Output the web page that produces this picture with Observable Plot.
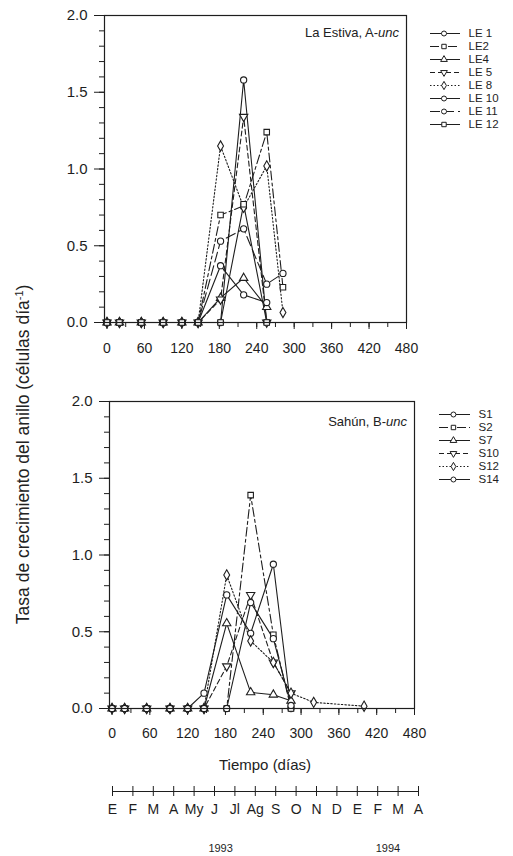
<!DOCTYPE html>
<html><head><meta charset="utf-8">
<script src="https://cdn.jsdelivr.net/npm/d3@7"></script>
<script src="https://cdn.jsdelivr.net/npm/@observablehq/plot@0.6"></script>
<style>
body{margin:0;background:#fff;}
#c{position:relative;width:513px;height:856px;font-family:"Liberation Sans",Arial,sans-serif;color:#222;overflow:hidden;}
#c svg{position:absolute;}
.abs{position:absolute;white-space:nowrap;}
</style></head><body><div id="c"></div>
<script>
// ---------- data ----------
const xTicks = [0, 60, 120, 180, 240, 300, 360, 420, 480];
const yTicks = [0, 0.5, 1.0, 1.5, 2.0];
const months = ["E","F","M","A","My","J","Jl","Ag","S","O","N","D","E","F","M","A"];
const years = [{label:"1993", m:5.3}, {label:"1994", m:13.5}];

const daysA = [0, 20, 55, 90, 120, 146, 182, 219, 256, 282];
const LE1  = [0,0,0,0,0,0,0,    1.58, 0,    null];
const LE2  = [0,0,0,0,0,0,0.70, 0.76, 1.24, 0.23];
const LE4  = [0,0,0,0,0,0,0.16, 0.29, 0.10, null];
const LE5  = [0,0,0,0,0,0,0.15, 1.34, 0,    null];
const LE8  = [0,0,0,0,0,0,1.15, 0.75, 1.02, 0.065];
const LE10 = [0,0,0,0,0,0,0.37, 0.18, 0.13, null];
const LE11 = [0,0,0,0,0,0,0.53, 0.61, 0.25, 0.32];
const LE12 = [0,0,0,0,0,0,0,    0.77, 0,    null];

const daysB = [0, 20, 55, 92, 120, 146, 182, 220, 256, 284, 320, 400];
const S1  = [0,0,0,0,0,0.10,0.74, 0.49, 0.94, 0,    null, null];
const S2  = [0,0,0,0,0,0,   0,    1.39, 0.48, 0,    null, null];
const S7  = [0,0,0,0,0,0,   0.555,0.105,0.09, 0.05, null, null];
const S10 = [0,0,0,0,0,0,   0.275,0.74, 0.30, 0.10, null, null];
const S12 = [0,0,0,0,0,0,   0.87, 0.44, 0.30, 0.10, 0.04, 0.015];
const S14 = [0,0,0,0,0,0,   0,    0.69, 0.455,0.02, null, null];

// ---------- styles ----------
const sqrt3 = Math.sqrt(3);
const triDown = {draw(ctx, size){ const y = -Math.sqrt(size/(sqrt3*3)); ctx.moveTo(0,-y*2); ctx.lineTo(-sqrt3*y, y); ctx.lineTo(sqrt3*y, y); ctx.closePath(); }};
const INK = "#1e1e1e";
const DASH = {solid:null, dashdot:"9,3,3,3", dash:"5,3", dot:"1.5,2", long:"10,4"};

const seriesA = [
  {name:"LE 1",  v:LE1,  sym:"circle",   dash:DASH.solid},
  {name:"LE2",   v:LE2,  sym:"square",   dash:DASH.dashdot},
  {name:"LE4",   v:LE4,  sym:"triangle", dash:DASH.solid},
  {name:"LE 5",  v:LE5,  sym:triDown,    dash:DASH.dash},
  {name:"LE 8",  v:LE8,  sym:"diamond",  dash:DASH.dot},
  {name:"LE 10", v:LE10, sym:"circle",   dash:DASH.solid},
  {name:"LE 11", v:LE11, sym:"circle",   dash:DASH.long},
  {name:"LE 12", v:LE12, sym:"square",   dash:DASH.solid}
];
const seriesB = [
  {name:"S1",  v:S1,  sym:"circle",   dash:DASH.solid},
  {name:"S2",  v:S2,  sym:"square",   dash:DASH.dashdot},
  {name:"S7",  v:S7,  sym:"triangle", dash:DASH.solid},
  {name:"S10", v:S10, sym:triDown,    dash:DASH.dash},
  {name:"S12", v:S12, sym:"diamond",  dash:DASH.dot},
  {name:"S14", v:S14, sym:"circle",   dash:DASH.solid}
];

const root = document.getElementById("c");
const baseStyle = {fontFamily:"Liberation Sans, Arial, sans-serif", fontSize:"14px", color:INK, background:"transparent", overflow:"visible"};

function panel(series, days, opts){
  const rowsOf = s => days.map((d,i)=>({day:d, v:s.v[i]})).filter(r=>r.v!=null);
  const lines = series.map(s => Plot.line(rowsOf(s), {x:"day", y:"v", stroke:INK, strokeWidth:1.1, strokeDasharray:s.dash}));
  const dots = series.map(s => Plot.dot(rowsOf(s), {x:"day", y:"v", symbol:s.sym, r:3.1, fill:"white", stroke:INK, strokeWidth:1.1}));
  const p = Plot.plot({
    width:513, height:opts.height,
    marginTop:opts.mt, marginBottom:opts.mb, marginLeft:opts.ml, marginRight:opts.mr,
    style:baseStyle,
    x:{domain:[-4,480]}, y:{domain:[0,2]},
    marks:[
      Plot.axisX({ticks:d3.range(0,481,30), tickSize:5, tickFormat:()=>"", label:null, stroke:INK}),
      Plot.axisX({ticks:xTicks, tickSize:7, tickPadding:opts.xpad, label:null, fontSize:14, stroke:INK, fill:INK}),
      Plot.axisY({ticks:d3.range(0,20.5,1).map(d=>d/10), tickSize:5, tickFormat:()=>"", label:null, stroke:INK}),
      Plot.axisY({ticks:yTicks, tickSize:10, tickPadding:7, tickFormat:d3.format(".1f"), label:null, fontSize:15, stroke:INK, fill:INK}),
      ...lines, ...dots,
      Plot.frame({stroke:INK, strokeWidth:1.2})
    ]
  });
  p.style.left="0px"; p.style.top=opts.top+"px";
  root.appendChild(p);
}

function legend(series, o){
  const names = series.map(s=>s.name);
  const marks = [];
  series.forEach(s=>{
    marks.push(Plot.ruleY([s.name], {y:d=>d, x1:()=>0, x2:()=>1, stroke:INK, strokeWidth:1, strokeDasharray:s.dash}));
    marks.push(Plot.dot([s.name], {x:()=>0.45, y:d=>d, symbol:s.sym, r:2.5, fill:"white", stroke:INK, strokeWidth:1}));
    marks.push(Plot.text([s.name], {x:()=>1, y:d=>d, text:d=>d, textAnchor:"start", dx:8, fontSize:11.5, fill:INK}));
  });
  const p = Plot.plot({
    width:o.w, height:o.h, marginTop:o.mt, marginBottom:o.mb, marginLeft:o.ml, marginRight:o.mr,
    style:baseStyle,
    x:{domain:[0,1], axis:null}, y:{type:"point", domain:names, padding:0, axis:null},
    marks
  });
  p.style.left=o.left+"px"; p.style.top=o.top+"px";
  root.appendChild(p);
}

panel(seriesA, daysA, {top:0, height:370, mt:15, mb:48, ml:104, mr:107, xpad:14});
panel(seriesB, daysB, {top:380, height:380, mt:21, mb:52, ml:109, mr:99, xpad:13});
legend(seriesA, {left:420, top:20, w:93, h:120, mt:10, mb:14, ml:10, mr:53});
legend(seriesB, {left:429, top:403, w:84, h:90, mt:10, mb:13, ml:10, mr:43});

// month axis
const mIdx = months.map((m,i)=>i);
const mp = Plot.plot({
  width:513, height:80, marginTop:10, marginBottom:60, marginLeft:112, marginRight:95,
  style:baseStyle,
  x:{domain:[0,15], axis:null}, y:{domain:[0,1], axis:null},
  marks:[
    Plot.ruleY([0.5], {stroke:INK, strokeWidth:1}),
    Plot.tickX(mIdx, {x:d=>d, stroke:INK, strokeWidth:1}),
    Plot.text(months, {x:(d,i)=>i, text:d=>d, frameAnchor:"bottom", dy:17, fontSize:14, fill:INK}),
    Plot.text(years, {x:"m", text:"label", frameAnchor:"bottom", dy:55, fontSize:11, fill:INK})
  ]
});
mp.style.left="0px"; mp.style.top="776px";
root.appendChild(mp);

// texts
function addText(html, css){ const d=document.createElement("div"); d.className="abs"; d.innerHTML=html; Object.assign(d.style, css); root.appendChild(d); return d; }
addText("La Estiva, A-<i>unc</i>", {right:(513-399)+"px", top:"25px", fontSize:"13px"});
addText("Sahún, B-<i>unc</i>", {right:(513-407)+"px", top:"414px", fontSize:"13px"});
addText("Tiempo (días)", {left:"0px", width:"530px", textAlign:"center", top:"756px", fontSize:"15px"});
addText("Tasa de crecimiento del anillo (células día<sup style='font-size:11px'>-1</sup>)",
  {left:(21-250)+"px", width:"500px", textAlign:"center", top:(452-11)+"px", lineHeight:"22px", fontSize:"17.5px", transform:"rotate(-90deg)"});
</script></body></html>
